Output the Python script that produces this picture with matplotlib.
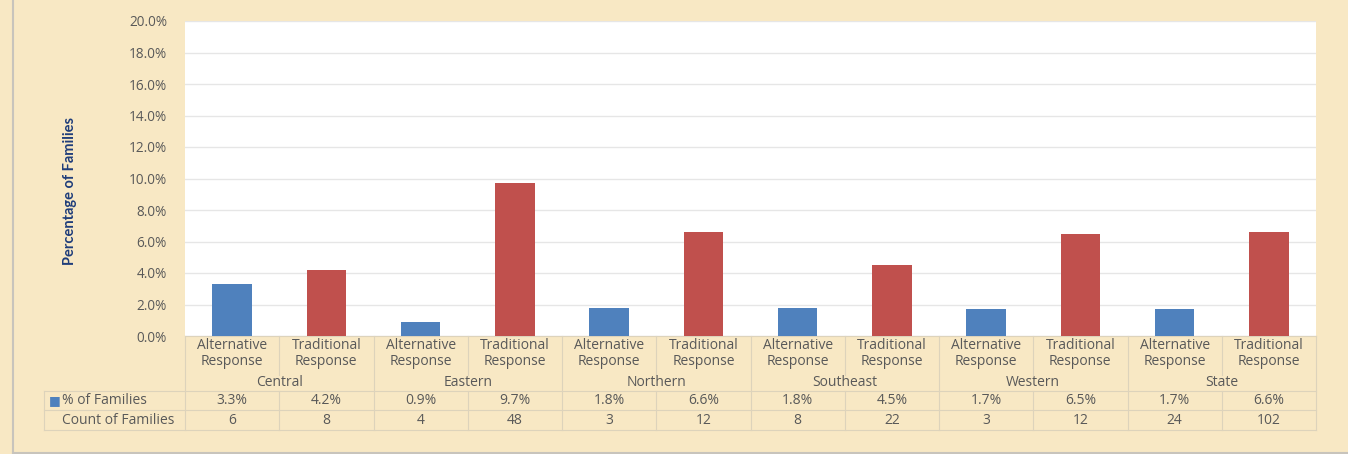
import numpy as np
import matplotlib.pyplot as plt
import matplotlib.transforms as mtransforms
from matplotlib.lines import Line2D

# data
regions = ['Central', 'Eastern', 'Northern', 'Southeast', 'Western', 'State']
responses = ['Alternative\nResponse', 'Traditional\nResponse']
pct_alt = [3.3, 0.9, 1.8, 1.8, 1.7, 1.7]
pct_trad = [4.2, 9.7, 6.6, 4.5, 6.5, 6.6]
count_alt = [6, 4, 3, 8, 3, 24]
count_trad = [8, 48, 12, 22, 12, 102]

blue = '#4f81bd'
red = '#c0504d'
txt = '#595959'
grid_c = '#ddd3bb'
bg = '#f8e8c4'

plt.rcParams['font.family'] = ['Open Sans', 'DejaVu Sans']

fig = plt.figure(figsize=(13.48, 4.54), dpi=100)
fig.patch.set_facecolor(bg)
W, H = 1348, 454
ax = fig.add_axes([185 / W, 1 - 336 / H, (1316 - 185) / W, (336 - 21) / H])
ax.set_facecolor('white')

pct = []
counts = []
for a, t, ca, ct in zip(pct_alt, pct_trad, count_alt, count_trad):
    pct += [a, t]
    counts += [ca, ct]
x = np.arange(len(pct))
colors = [blue, red] * len(regions)
ax.bar(x, pct, width=0.42, color=colors, zorder=3)

ax.set_xlim(-0.5, len(pct) - 0.5)
ax.set_ylim(0, 20)
ax.set_yticks(np.arange(0, 20.1, 2))
ax.set_yticklabels(['%.1f%%' % v for v in np.arange(0, 20.1, 2)])
ax.yaxis.grid(True, color='#e6e6e6', linewidth=1, zorder=0)
ax.tick_params(axis='y', length=0, pad=13, labelsize=9.8, labelcolor=txt)
ax.tick_params(axis='x', bottom=False, labelbottom=False)
for s in ['top', 'right', 'left']:
    ax.spines[s].set_visible(False)
ax.spines['bottom'].set_color(grid_c)

fig.text(70 / W, 1 - 191 / H, 'Percentage of Families', rotation=90, ha='center',
         va='center', fontsize=10.5, fontweight='bold', color='#1f3d7a',
         family=['Lato', 'DejaVu Sans'])

# data table below the axis
tr = mtransforms.blended_transform_factory(ax.transData, ax.transAxes)
ph = 315.0
def yy(p):
    return -(p - 336) / ph

kw = dict(transform=tr, clip_on=False, color=grid_c, linewidth=0.8)
# vertical lines
for i in range(len(pct) + 1):
    xb = i - 0.5
    if i % 2 == 0:
        ax.add_line(Line2D([xb, xb], [yy(336), yy(430)], **kw))
    else:
        ax.add_line(Line2D([xb, xb], [yy(336), yy(375)], **kw))
        ax.add_line(Line2D([xb, xb], [yy(391), yy(430)], **kw))
left = -2.0
ax.add_line(Line2D([left, left], [yy(391), yy(430)], **kw))
for p in [391, 410, 430]:
    ax.add_line(Line2D([left, len(pct) - 0.5], [yy(p), yy(p)], **kw))

tkw = dict(transform=tr, ha='center', va='center', color=txt, fontsize=10)
for i in range(len(pct)):
    ax.text(i, yy(353.5), responses[i % 2], linespacing=1.1, **tkw)
    ax.text(i, yy(400.5), '%.1f%%' % pct[i], **tkw)
    ax.text(i, yy(420), str(counts[i]), **tkw)
for g, r in enumerate(regions):
    ax.text(2 * g + 0.5, yy(382), r, **tkw)

ax.text(left + 0.06, yy(400.5), '\u25a0', transform=tr, ha='left', va='center',
        color=blue, fontsize=9, family='DejaVu Sans')
ax.text(left + 0.19, yy(400.5), '% of Families', transform=tr, ha='left',
        va='center', color=txt, fontsize=10)
ax.text(left + 0.19, yy(420), 'Count of Families', transform=tr, ha='left',
        va='center', color=txt, fontsize=10)

# frame lines of the slide
fig.add_artist(Line2D([13 / W, 13 / W], [0, 1], transform=fig.transFigure,
                      color='#c8c4bc', linewidth=1.5))
fig.add_artist(Line2D([13 / W, 1], [1.5 / H, 1.5 / H], transform=fig.transFigure,
                      color='#c8c4bc', linewidth=1.5))

fig.savefig('out.png', dpi=100, facecolor=bg)
